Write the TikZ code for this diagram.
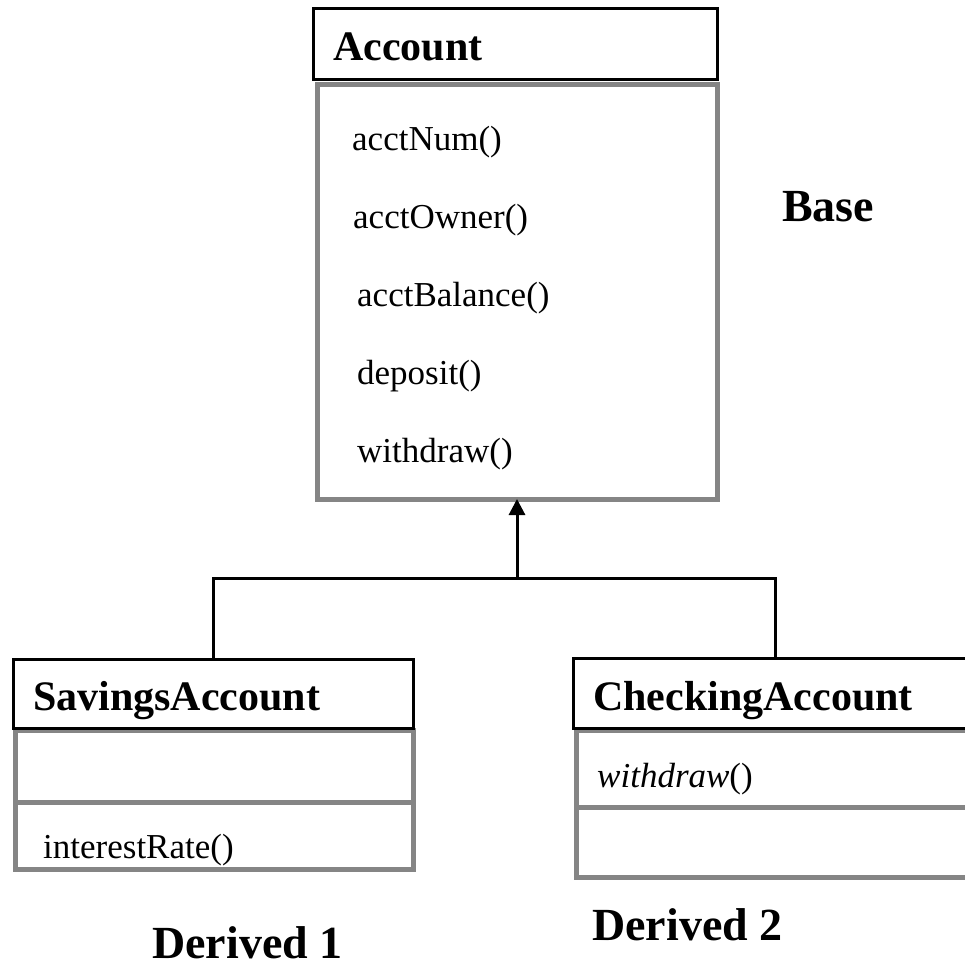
\documentclass[tikz,border=0pt]{standalone}
\usepackage{fontspec}
\setmainfont{Liberation Serif}
\usepackage{tikz}
\usetikzlibrary{arrows.meta}

\definecolor{bodygray}{HTML}{858585}

\begin{document}
\begin{tikzpicture}[
			x=1pt, y=-1pt,
			line cap=rect,
			line join=miter,
			classhead/.style={draw=black, line width=3pt, anchor=north west, inner sep=0pt, outer sep=0pt},
			classbody/.style={draw=bodygray, line width=5pt, anchor=north west, inner sep=0pt, outer sep=0pt},
			headtext/.style={anchor=base west, inner sep=0pt, font=\fontsize{42}{48}\selectfont\bfseries},
			methtext/.style={anchor=base west, inner sep=0pt, font=\fontsize{35}{42}\selectfont},
			tagtext/.style={anchor=base west, inner sep=0pt, font=\fontsize{46}{54}\selectfont\bfseries},
			link/.style={draw=black, line width=3pt}
			]
			\useasboundingbox (0,0) rectangle (965,980);
			
			% Base class
			\node[classbody, minimum width=400pt, minimum height=415pt] (accbody) at (317,84) {};
			\node[classhead, minimum width=404pt, minimum height=71pt] (acchead) at (313,8) {};
			\node[headtext] (accname) at (333,60) {Account};
			
			\node[methtext] (mnum) at (352,150) {acctNum()};
			\node[methtext] (mowner) at (353,228) {acctOwner()};
			\node[methtext] (mbal) at (357,306) {acctBalance()};
			\node[methtext] (mdep) at (357,384) {deposit()};
			\node[methtext] (mwd) at (357,462) {withdraw()};
			
			\node[tagtext] (base) at (782,221) {Base};
			
			% Derived class 1
			\node[classbody, minimum width=398pt, minimum height=72pt] (savattr) at (15,730) {};
			\node[classbody, minimum width=398pt, minimum height=67pt] (savmeth) at (15,802) {};
			\node[classhead, minimum width=400pt, minimum height=69pt] (savhead) at (13,659) {};
			\node[headtext] (savname) at (33,710) {SavingsAccount};
			\node[methtext] (mrate) at (43,858) {interestRate()};
			
			\node[tagtext] (der1) at (152,958) {Derived 1};
			
			% Derived class 2 (runs off the right edge)
			\node[classbody, minimum width=400pt, minimum height=77pt] (chkattr) at (576,730) {};
			\node[classbody, minimum width=400pt, minimum height=70pt] (chkmeth) at (576,807) {};
			\node[classhead, minimum width=404pt, minimum height=70pt] (chkhead) at (573,658) {};
			\node[headtext] (chkname) at (593,710) {CheckingAccount};
			\node[methtext] (mover) at (597,787) {\textit{withdraw}()};
			
			\node[tagtext] (der2) at (592,940) {Derived 2};
			
			% Inheritance connector
			\coordinate (junc) at (517,578);
			\draw[link] (savhead.north) |- (junc) -| (chkhead.north);
			\draw[link, -{Triangle[length=16pt, width=16pt]}] (junc) -- (accbody.south);
		\end{tikzpicture}
\end{document}
